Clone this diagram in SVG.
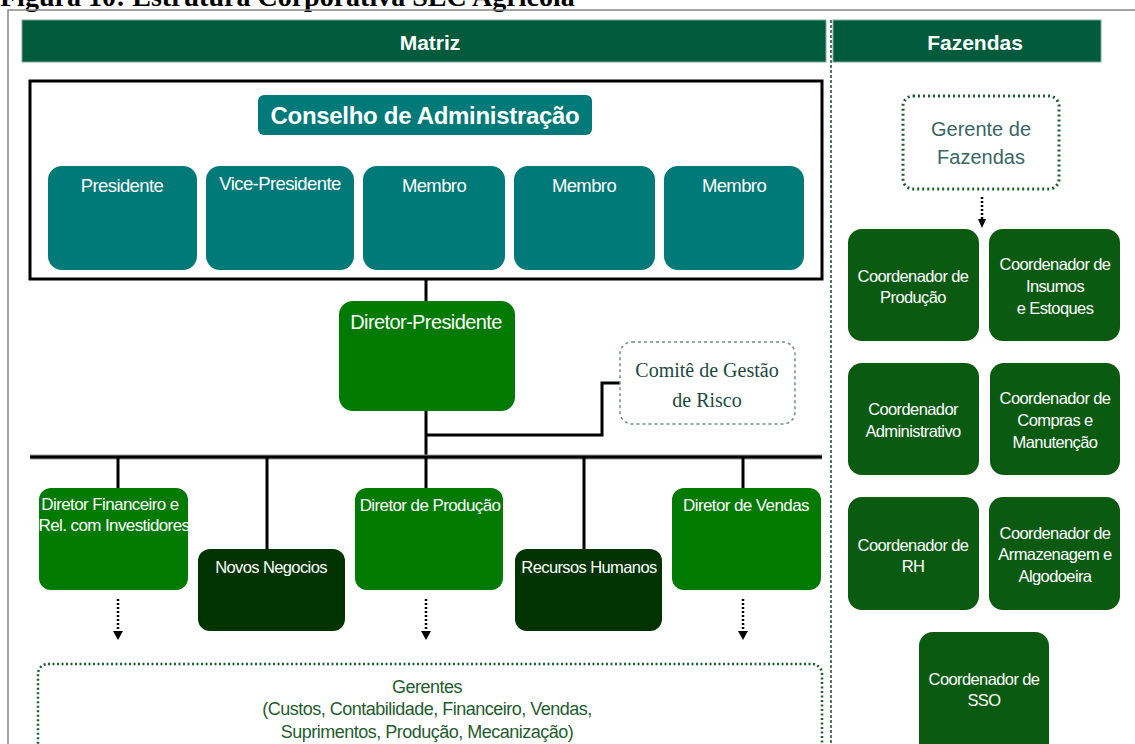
<svg xmlns="http://www.w3.org/2000/svg" width="1135" height="744" viewBox="0 0 1135 744">
<defs>
<style>
.hdr{fill:#005a3c;stroke:#7fa898;stroke-width:1}
.hdrt{font-family:"Liberation Sans",Arial,sans-serif;font-weight:bold;font-size:21px;fill:#fff;text-anchor:middle}
.teal{fill:#007a78}
.grn{fill:#007a00}
.dk{fill:#003300}
.co{fill:#0a5a12}
.t{font-family:"Liberation Sans",Arial,sans-serif;font-size:17px;fill:#fff;text-anchor:middle;letter-spacing:-0.6px}
.bt{font-size:18.5px}
.ct{font-family:"Liberation Sans",Arial,sans-serif;font-size:16.5px;fill:#fff;text-anchor:middle;letter-spacing:-0.6px}
.gt{font-family:"Liberation Sans",Arial,sans-serif;font-size:18px;fill:#1f5c2e;text-anchor:middle;letter-spacing:-0.5px}
.ln{stroke:#000;stroke-width:3;fill:none}
.dot{stroke:#000;stroke-width:2.5;stroke-dasharray:2 2;fill:none}
</style>
</defs>
<rect width="1135" height="744" fill="#fff"/>
<text x="0" y="6" font-family="Liberation Serif,serif" font-weight="bold" font-size="28">Figura 10: Estrutura Corporativa SLC Agrícola</text>
<path d="M8,744 V10 H1135" stroke="#888" stroke-width="1.5" fill="none"/>
<g id="header-matriz"><rect class="hdr" x="22" y="20" width="804" height="42"/><text class="hdrt" x="430" y="50">Matriz</text></g>
<g id="header-fazendas"><rect class="hdr" x="833" y="20" width="268" height="42"/><text class="hdrt" x="975" y="50">Fazendas</text></g>
<line x1="831" y1="20" x2="831" y2="744" stroke="#4d7a5a" stroke-width="2" stroke-dasharray="3 2"/>
<g id="conselho-frame"><rect x="30" y="81" width="792" height="198" fill="none" stroke="#000" stroke-width="3"/></g>
<g id="conselho"><rect class="teal" x="258" y="95" width="334" height="40" rx="6"/><text x="425" y="124" font-family="Liberation Sans,Arial,sans-serif" font-weight="bold" font-size="24" fill="#fff" text-anchor="middle" letter-spacing="-0.3">Conselho de Administração</text></g>
<g id="presidente"><rect class="teal" x="48" y="166" width="149" height="104" rx="14"/><text class="t bt" x="122" y="192">Presidente</text></g>
<g id="vice-presidente"><rect class="teal" x="206" y="166" width="148" height="104" rx="14"/><text class="t bt" x="280" y="190">Vice-Presidente</text></g>
<g id="membro1"><rect class="teal" x="363" y="166" width="142" height="104" rx="14"/><text class="t bt" x="434" y="192">Membro</text></g>
<g id="membro2"><rect class="teal" x="514" y="166" width="141" height="104" rx="14"/><text class="t bt" x="584" y="192">Membro</text></g>
<g id="membro3"><rect class="teal" x="664" y="166" width="140" height="104" rx="14"/><text class="t bt" x="734" y="192">Membro</text></g>
<g id="connectors">
<path class="ln" d="M426,279 V301"/>
<path class="ln" d="M426,411 V457"/>
<path class="ln" d="M426,435 H602 V383 H620"/>
<path d="M30,457 H822" stroke="#999" stroke-width="5"/>
<path class="ln" d="M30,457 H822"/>
<path class="ln" d="M118,457 V488"/>
<path class="ln" d="M267,457 V549" stroke-width="2"/>
<path class="ln" d="M426,457 V488"/>
<path class="ln" d="M584,457 V549" stroke-width="2"/>
<path class="ln" d="M743,457 V488"/>
<path class="dot" d="M118,599 V632"/><path d="M113,631 L123,631 L118,640 Z"/>
<path class="dot" d="M426,599 V632"/><path d="M421,631 L431,631 L426,640 Z"/>
<path class="dot" d="M743,599 V632"/><path d="M738,631 L748,631 L743,640 Z"/>
<path class="dot" d="M982,197 V221" stroke-width="2"/><path d="M978,219 L986,219 L982,228 Z"/>
</g>
<g id="diretor-presidente"><rect class="grn" x="339" y="301" width="176" height="110" rx="14"/><text class="t" x="426" y="329" style="font-size:20px">Diretor-Presidente</text></g>
<g id="comite"><rect x="620" y="342" width="175" height="82" rx="12" fill="#fff" stroke="#7a8a80" stroke-width="1.5" stroke-dasharray="3 3"/><text x="707" y="377" font-family="Liberation Serif,serif" font-size="20" fill="#1d4a40" text-anchor="middle">Comitê de Gestão</text><text x="707" y="407" font-family="Liberation Serif,serif" font-size="20" fill="#1d4a40" text-anchor="middle">de Risco</text></g>
<g id="diretor-financeiro"><rect class="grn" x="39" y="488" width="149" height="102" rx="12"/><text class="t" x="110" y="510" style="font-size:17px">Diretor Financeiro e</text><text class="t" x="114" y="531" style="font-size:17px">Rel. com Investidores</text></g>
<g id="novos-negocios"><rect class="dk" x="198" y="549" width="147" height="82" rx="12"/><text class="t" x="271" y="573" style="font-size:16.5px">Novos Negocios</text></g>
<g id="diretor-producao"><rect class="grn" x="355" y="488" width="148" height="102" rx="12"/><text class="t" x="430" y="511">Diretor de Produção</text></g>
<g id="recursos-humanos"><rect class="dk" x="515" y="549" width="147" height="82" rx="12"/><text class="t" x="589" y="573" style="font-size:16.5px">Recursos Humanos</text></g>
<g id="diretor-vendas"><rect class="grn" x="672" y="488" width="149" height="102" rx="12"/><text class="t" x="746" y="511">Diretor de Vendas</text></g>
<g id="gerentes"><rect x="38" y="664" width="784" height="100" rx="10" fill="none" stroke="#1f5c2e" stroke-width="2.5" stroke-dasharray="2 2.5"/>
<text class="gt" x="427" y="693">Gerentes</text>
<text class="gt" x="427" y="715">(Custos, Contabilidade, Financeiro, Vendas,</text>
<text class="gt" x="427" y="738">Suprimentos, Produção, Mecanização)</text></g>
<g id="gerente-fazendas"><rect x="903" y="96" width="156" height="93" rx="10" fill="none" stroke="#1f5c2e" stroke-width="3" stroke-dasharray="2 3"/>
<text x="981" y="136" font-family="Liberation Sans,Arial,sans-serif" font-size="20" fill="#3a6666" text-anchor="middle">Gerente de</text>
<text x="981" y="164" font-family="Liberation Sans,Arial,sans-serif" font-size="20" fill="#3a6666" text-anchor="middle">Fazendas</text></g>
<g id="coord-producao"><rect class="co" x="848" y="229" width="131" height="112" rx="14"/><text class="ct" x="913" y="282">Coordenador de</text><text class="ct" x="913" y="303">Produção</text></g>
<g id="coord-insumos"><rect class="co" x="989" y="229" width="131" height="112" rx="14"/><text class="ct" x="1055" y="270">Coordenador de</text><text class="ct" x="1055" y="292">Insumos</text><text class="ct" x="1055" y="314">e Estoques</text></g>
<g id="coord-administrativo"><rect class="co" x="848" y="363" width="131" height="112" rx="14"/><text class="ct" x="913" y="415">Coordenador</text><text class="ct" x="913" y="437">Administrativo</text></g>
<g id="coord-compras"><rect class="co" x="990" y="363" width="130" height="112" rx="14"/><text class="ct" x="1055" y="404">Coordenador de</text><text class="ct" x="1055" y="426">Compras e</text><text class="ct" x="1055" y="448">Manutenção</text></g>
<g id="coord-rh"><rect class="co" x="848" y="497" width="131" height="113" rx="14"/><text class="ct" x="913" y="551">Coordenador de</text><text class="ct" x="913" y="572">RH</text></g>
<g id="coord-armazenagem"><rect class="co" x="989" y="497" width="131" height="113" rx="14"/><text class="ct" x="1055" y="539">Coordenador de</text><text class="ct" x="1055" y="560">Armazenagem e</text><text class="ct" x="1055" y="582">Algodoeira</text></g>
<g id="coord-sso"><rect class="co" x="919" y="632" width="130" height="125" rx="14"/><text class="ct" x="984" y="685">Coordenador de</text><text class="ct" x="984" y="706">SSO</text></g>
</svg>
